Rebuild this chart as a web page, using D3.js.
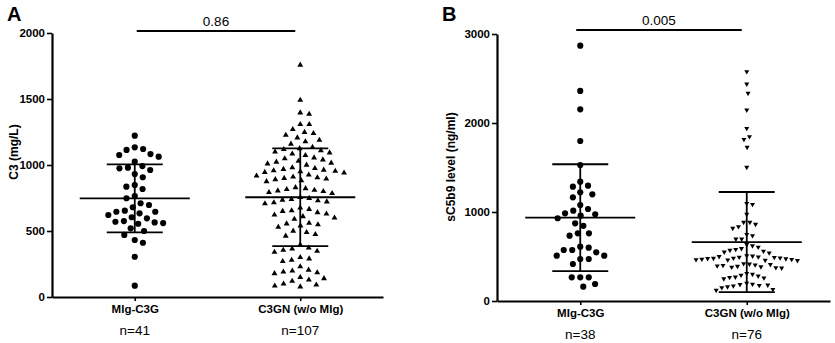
<!DOCTYPE html>
<html>
<head>
<meta charset="utf-8">
<script src="https://cdn.jsdelivr.net/npm/d3@7"></script>
<style>
  body { margin: 0; background: #fff; }
  svg { font-family: "Liberation Sans", Arial, sans-serif; }
</style>
</head>
<body>
<svg id="canvas"></svg>
<script>
const width = 835;
const height = 343;

// panel A: C3 (mg/L)
const groupsA = ["MIg-C3G", "C3GN (w/o MIg)"];
const countsA = ["n=41", "n=107"];
const ticksA = [0, 500, 1000, 1500, 2000];
const pValueA = "0.86";
const c3Mig = [1222, 1134, 1121, 1114, 1083, 1076, 1063, 1025, 992, 980, 975, 962, 932, 907,
    848, 836, 818, 765, 748, 710, 697, 680, 654, 646, 646, 634, 621, 604, 596, 575, 570,
    565, 560, 555, 520, 500, 470, 432, 411, 305, 86];
const c3C3gn = [1758, 1492, 1396, 1386, 1308, 1308, 1270, 1248, 1240, 1227, 1207, 1189, 1177, 1159,
    1135, 1125, 1118, 1110, 1100, 1093, 1085, 1073,
    1055, 1048, 1040, 1030, 1023, 1015, 1010, 1000,
    980, 975, 968, 962, 958, 954, 950, 945, 940,
    925, 918, 910, 905, 900, 895, 890, 882, 875,
    830, 822, 815, 810, 805, 800, 793, 785,
    755, 748, 740, 735, 730, 722, 715, 708,
    675, 665, 655, 650, 640, 630, 622, 610, 600, 590,
    560, 555, 548, 540, 530,
    500, 490, 475, 462,
    395,
    372, 365, 355, 348, 340,
    300, 290, 280, 270,
    230,
    205, 198, 190, 185, 178,
    150, 140, 130, 120,
    100, 92, 85, 78];

// panel B: sC5b9 (ng/ml)
const groupsB = ["MIg-C3G", "C3GN (w/o MIg)"];
const countsB = ["n=38", "n=76"];
const ticksB = [0, 1000, 2000, 3000];
const pValueB = "0.005";
const sc5b9Mig = [2869, 2360, 2154, 1798, 1528, 1341, 1296, 1285, 1221, 1199, 1165, 1079,
    1034, 1015, 985, 974, 959, 930, 873, 845, 760, 760, 734, 610, 599, 573, 573, 547,
    509, 509, 472, 472, 416, 266, 266, 266, 191, 161];
const sc5b9C3gn = [2577, 2438, 2334, 2146, 1940, 1846, 1816, 1727, 1502,
    1097, 1086, 974,
    884, 884, 862, 835, 817,
    749, 734, 697, 697,
    635, 620, 605, 590, 580, 570, 560, 550, 540,
    510, 505, 500, 495, 492, 490, 485, 482, 480, 477, 475, 470, 468, 465, 462, 458, 455,
    420, 415, 410, 405, 400, 395, 390, 385, 380, 375, 370,
    310, 300, 290, 280, 270, 265, 260, 250,
    200, 190, 185, 180, 175, 170, 160, 150,
    130, 120];

const canvas = d3.select("#canvas")
    .attr("width", width)
    .attr("height", height);

// greedy beeswarm: put each point as close to the centre as it can go
function swarm(values, yScale, sx, sy) {
    const sorted = values.slice().sort((a, b) => b - a);
    const placed = [];
    sorted.forEach(v => {
        const y = yScale(v);
        const blocks = [];
        placed.forEach(p => {
            const dy = Math.abs(p.y - y);
            if (dy < sy) {
                const h = sx * Math.sqrt(1 - (dy / sy) * (dy / sy));
                blocks.push([p.dx - h, p.dx + h]);
            }
        });
        let cands = [0];
        blocks.forEach(b => cands.push(b[0], b[1]));
        cands = cands.filter(c => blocks.every(b => c <= b[0] + 1e-6 || c >= b[1] - 1e-6));
        cands.sort((a, b) => Math.abs(a) - Math.abs(b) || b - a);
        placed.push({ v: v, y: y, dx: cands[0] });
    });
    return placed;
}

function drawPanel(cfg) {
    const g = canvas.append("g");

    const yScale = d3.scaleLinear()
        .domain([0, cfg.ticks[cfg.ticks.length - 1]])
        .range([cfg.bottom, cfg.top]);
    const xScale = d3.scalePoint()
        .domain(cfg.groups)
        .range([cfg.left, cfg.right])
        .padding(0.5);

    const yAxis = d3.axisLeft(yScale)
        .tickValues(cfg.ticks)
        .tickFormat(d3.format("d"))
        .tickSize(5)
        .tickSizeOuter(0)
        .tickPadding(2);
    const xAxis = d3.axisBottom(xScale)
        .tickSize(4)
        .tickSizeOuter(0)
        .tickPadding(4);

    const ya = g.append("g")
        .attr("transform", `translate(${cfg.left}, 0)`)
        .call(yAxis);
    const xa = g.append("g")
        .attr("transform", `translate(0, ${cfg.bottom})`)
        .call(xAxis);

    [ya, xa].forEach(a => {
        a.select(".domain").attr("stroke-width", 2.2);
        a.selectAll(".tick line").attr("stroke-width", 1.6);
        a.selectAll(".tick text")
            .attr("font-family", "Liberation Sans, Arial, sans-serif")
            .attr("font-weight", "bold")
            .attr("fill", "#000");
    });
    ya.selectAll(".tick text").attr("font-size", 11.5);
    xa.selectAll(".tick text").attr("font-size", 11.5);

    // counts under the categories
    g.selectAll(".count")
        .data(cfg.counts)
        .enter()
        .append("text")
        .attr("x", (d, i) => xScale(cfg.groups[i]))
        .attr("y", cfg.bottom + 38)
        .attr("text-anchor", "middle")
        .attr("font-size", 13.5)
        .text(d => d);

    // axis title
    g.append("text")
        .attr("transform", `translate(${cfg.titleX}, ${cfg.titleY}) rotate(-90)`)
        .attr("text-anchor", "middle")
        .attr("font-size", 12)
        .attr("font-weight", "bold")
        .text(cfg.title);

    // panel letter
    g.append("text")
        .attr("x", cfg.letterX)
        .attr("y", 21)
        .attr("font-size", 20)
        .attr("font-weight", "bold")
        .text(cfg.letter);

    // significance bar
    const x1 = xScale(cfg.groups[0]) + cfg.barPad[0];
    const x2 = xScale(cfg.groups[1]) + cfg.barPad[1];
    g.append("line")
        .attr("x1", x1).attr("x2", x2)
        .attr("y1", cfg.barY).attr("y2", cfg.barY)
        .attr("stroke", "#000")
        .attr("stroke-width", 1.8);
    g.append("text")
        .attr("x", (x1 + x2) / 2)
        .attr("y", cfg.barY - 5)
        .attr("text-anchor", "middle")
        .attr("font-size", 13.5)
        .text(cfg.pValue);

    cfg.series.forEach((s, i) => {
        const cx = xScale(cfg.groups[i]);
        const pts = swarm(s.values, yScale, s.sx, s.sy);
        const sym = d3.symbol().type(s.shape).size(s.size);

        g.append("g")
            .selectAll("path")
            .data(pts)
            .enter()
            .append("path")
            .attr("d", sym)
            .attr("transform", d => `translate(${cx + d.dx}, ${d.y})${s.flip ? " rotate(180)" : ""}`)
            .attr("fill", "#000");

        const mean = d3.mean(s.values);
        const sd = d3.deviation(s.values);
        const lines = g.append("g")
            .attr("stroke", "#000")
            .attr("stroke-width", 1.8);
        lines.append("line")
            .attr("x1", cx - 55).attr("x2", cx + 55)
            .attr("y1", yScale(mean)).attr("y2", yScale(mean));
        [mean - sd, mean + sd].forEach(v => {
            lines.append("line")
                .attr("x1", cx - 28).attr("x2", cx + 28)
                .attr("y1", yScale(v)).attr("y2", yScale(v));
        });
        lines.append("line")
            .attr("x1", cx).attr("x2", cx)
            .attr("y1", yScale(mean - sd)).attr("y2", yScale(mean + sd));
    });
}

drawPanel({
    left: 52, right: 383, top: 33, bottom: 297,
    groups: groupsA, counts: countsA, ticks: ticksA,
    title: "C3 (mg/L)", titleX: 18, titleY: 152,
    letter: "A", letterX: 7,
    pValue: pValueA, barY: 31, barPad: [2, -5],
    series: [
        { values: c3Mig, shape: d3.symbolCircle, size: 30, sx: 8.5, sy: 10 },
        { values: c3C3gn, shape: d3.symbolTriangle, size: 15, sx: 9, sy: 9 }
    ]
});

drawPanel({
    left: 497, right: 830, top: 34, bottom: 301,
    groups: groupsB, counts: countsB, ticks: ticksB,
    title: "sC5b9 level (ng/ml)", titleX: 455, titleY: 167,
    letter: "B", letterX: 442,
    pValue: pValueB, barY: 30, barPad: [-4, -5],
    series: [
        { values: sc5b9Mig, shape: d3.symbolCircle, size: 30, sx: 8.5, sy: 10 },
        { values: sc5b9C3gn, shape: d3.symbolTriangle, size: 11, sx: 5.8, sy: 9.5, flip: true }
    ]
});
</script>
</body>
</html>
